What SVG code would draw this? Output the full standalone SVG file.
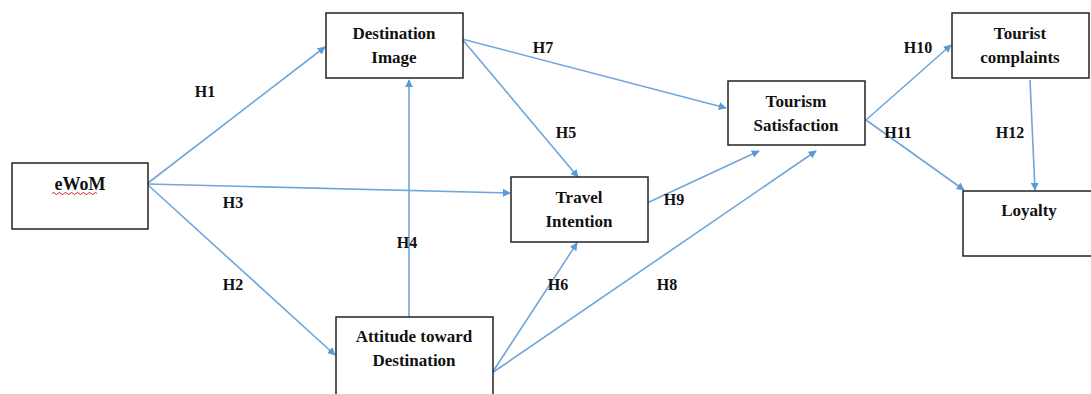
<svg xmlns="http://www.w3.org/2000/svg" width="1091" height="394" viewBox="0 0 1091 394">
<style>
.box{fill:#fff;stroke:#222;stroke-width:1.5}
.t{font-family:"Liberation Serif","Times New Roman",serif;font-weight:bold;font-size:17px;fill:#111;text-anchor:middle}
.l{font-family:"Liberation Serif","Times New Roman",serif;font-weight:bold;font-size:16px;fill:#111;text-anchor:middle}
.c{stroke:#6fa6dc;stroke-width:1.6;fill:none;marker-end:url(#ah)}
</style>
<defs>
<marker id="ah" viewBox="0 0 10 10" refX="9" refY="5" markerWidth="8" markerHeight="8" markerUnits="userSpaceOnUse" orient="auto">
<path d="M0,0 L10,5 L0,10 z" fill="#5b9bd5"/>
</marker>
</defs>
<rect width="1091" height="394" fill="#fff"/>
<g id="connectors">
<line class="c" x1="148" y1="183" x2="325" y2="47"/>
<line class="c" x1="148" y1="184" x2="510" y2="193"/>
<line class="c" x1="148" y1="185" x2="335" y2="355"/>
<line class="c" x1="409" y1="317" x2="409" y2="80"/>
<line class="c" x1="462" y1="39" x2="578" y2="177"/>
<line class="c" x1="462" y1="39" x2="726" y2="108"/>
<line class="c" x1="492" y1="373" x2="577" y2="243"/>
<line class="c" x1="492" y1="373" x2="816" y2="151"/>
<line class="c" x1="647" y1="203" x2="759" y2="151"/>
<line class="c" x1="866" y1="120" x2="951" y2="45"/>
<line class="c" x1="866" y1="120" x2="964" y2="190"/>
<line class="c" x1="1030" y1="80" x2="1035" y2="190"/>
</g>
<g id="labels">
<text class="l" x="205" y="97">H1</text>
<text class="l" x="233" y="208">H3</text>
<text class="l" x="233" y="290">H2</text>
<text class="l" x="407" y="248">H4</text>
<text class="l" x="543" y="53">H7</text>
<text class="l" x="566" y="138">H5</text>
<text class="l" x="558" y="290">H6</text>
<text class="l" x="667" y="290">H8</text>
<text class="l" x="674" y="205">H9</text>
<text class="l" x="918" y="53">H10</text>
<text class="l" x="898" y="138">H11</text>
<text class="l" x="1010" y="138">H12</text>
</g>
<g id="eWoM">
<rect class="box" x="12" y="163" width="136" height="66"/>
<text class="t" x="80" y="190" style="font-size:18px">eWoM</text>
<path d="M52,193.5 q1.5,-2 3,0 t3,0 t3,0 t3,0 t3,0 t3,0 t3,0 t3,0 t3,0 t3,0 t3,0 t3,0 t3,0 t3,0 t3,0" fill="none" stroke="#d02030" stroke-width="1"/>
</g>
<g id="destination-image">
<rect class="box" x="326" y="13" width="137" height="65"/>
<text class="t" x="394" y="39">Destination</text>
<text class="t" x="394" y="63">Image</text>
</g>
<g id="attitude">
<rect class="box" x="336" y="317" width="157" height="80"/>
<text class="t" x="414" y="342">Attitude toward</text>
<text class="t" x="414" y="366">Destination</text>
</g>
<g id="travel-intention">
<rect class="box" x="511" y="177" width="137" height="65"/>
<text class="t" x="579" y="203">Travel</text>
<text class="t" x="579" y="227">Intention</text>
</g>
<g id="tourism-satisfaction">
<rect class="box" x="728" y="81" width="137" height="64"/>
<text class="t" x="796" y="107">Tourism</text>
<text class="t" x="796" y="131">Satisfaction</text>
</g>
<g id="tourist-complaints">
<rect class="box" x="952" y="13" width="137" height="65"/>
<text class="t" x="1020" y="39">Tourist</text>
<text class="t" x="1020" y="63">complaints</text>
</g>
<g id="loyalty">
<rect class="box" x="963" y="191" width="130" height="65"/>
<text class="t" x="1029" y="216">Loyalty</text>
</g>
</svg>
